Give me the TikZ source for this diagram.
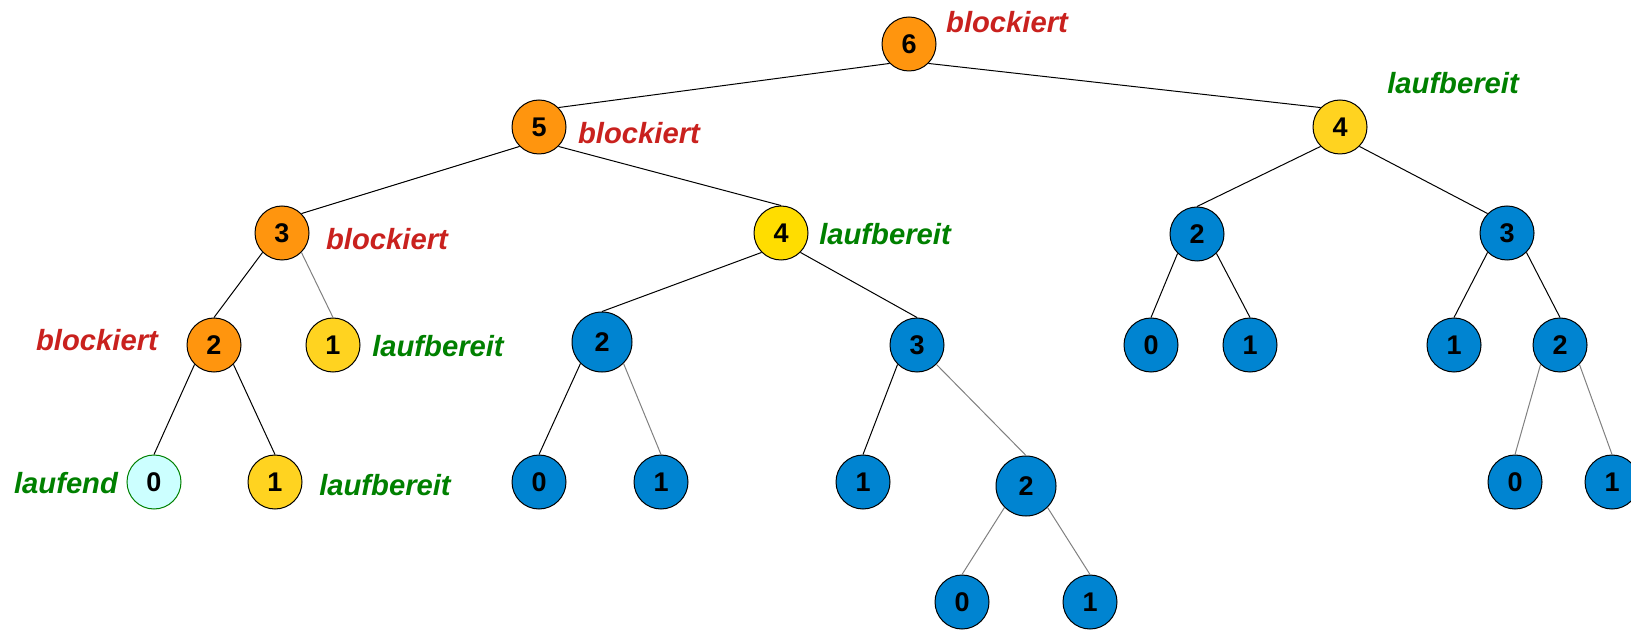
\documentclass[tikz,border=0pt]{standalone}
\usepackage{fontspec}
\setmainfont{Liberation Sans}
\definecolor{orng}{HTML}{FF950E}
\definecolor{ylw}{HTML}{FFD320}
\definecolor{ylwb}{HTML}{FFDD00}
\definecolor{blu}{HTML}{0084D1}
\definecolor{cyn}{HTML}{CCFFFF}
\definecolor{redtxt}{HTML}{C9211E}
\definecolor{grntxt}{HTML}{008000}
\definecolor{edgegray}{HTML}{808080}
\tikzset{
  pnode/.style={circle,draw=black,line width=0.5pt,inner sep=0pt,minimum size=27pt,
    font=\fontsize{13.5}{14}\selectfont\bfseries},
  big/.style={minimum size=30pt},
  orangenode/.style={pnode,fill=orng},
  yellownode/.style={pnode,fill=ylw},
  brightyellownode/.style={pnode,fill=ylwb},
  bluenode/.style={pnode,fill=blu},
  cyannode/.style={pnode,fill=cyn,draw=grntxt},
  redlabel/.style={text=redtxt,font=\fontsize{14.6}{16}\selectfont\bfseries\itshape,inner sep=0pt},
  greenlabel/.style={text=grntxt,font=\fontsize{14.6}{16}\selectfont\bfseries\itshape,inner sep=0pt},
  edge/.style={draw=black,line width=0.5pt},
  grayedge/.style={draw=edgegray,line width=0.5pt}
}
\begin{document}
\begin{tikzpicture}[x=0.5pt,y=-0.5pt]
\useasboundingbox (0,0) rectangle (1631,630);
% nodes
\node[orangenode] (n6) at (909,44) {6};
\node[orangenode] (n5) at (539,127) {5};
\node[yellownode] (n4r) at (1340,127) {4};
\node[orangenode] (n3l) at (282,233) {3};
\node[brightyellownode] (n4m) at (781,233) {4};
\node[bluenode] (n2r) at (1197,234) {2};
\node[bluenode] (n3r) at (1507,233) {3};
\node[orangenode] (n2o) at (214,345) {2};
\node[yellownode] (n1y) at (333,345) {1};
\node[bluenode,big] (n2m) at (602,342) {2};
\node[bluenode] (n3m) at (917,345) {3};
\node[bluenode] (n0a) at (1151,345) {0};
\node[bluenode] (n1a) at (1250,345) {1};
\node[bluenode] (n1b) at (1454,345) {1};
\node[bluenode] (n2b) at (1560,345) {2};
\node[cyannode] (n0c) at (154,482) {0};
\node[yellownode] (n1yb) at (275,482) {1};
\node[bluenode] (n0d) at (539,482) {0};
\node[bluenode] (n1d) at (661,482) {1};
\node[bluenode] (n1e) at (863,482) {1};
\node[bluenode,big] (n2e) at (1026,486) {2};
\node[bluenode] (n0f) at (1515,482) {0};
\node[bluenode] (n1f) at (1612,482) {1};
\node[bluenode] (n0g) at (962,602) {0};
\node[bluenode] (n1g) at (1090,602) {1};
% labels
\node[redlabel] (l6) at (1007,22) {blockiert};
\node[redlabel] (l5) at (639,133) {blockiert};
\node[greenlabel] (l4r) at (1453,83) {laufbereit};
\node[redlabel] (l3l) at (387,239) {blockiert};
\node[greenlabel] (l4m) at (885,234) {laufbereit};
\node[redlabel] (l2o) at (97,340) {blockiert};
\node[greenlabel] (l1y) at (438,346) {laufbereit};
\node[greenlabel] (l0c) at (66,483) {laufend};
\node[greenlabel] (l1yb) at (385,485) {laufbereit};
% edges
\draw[edge] (n6.225) -- (n5.45);
\draw[edge] (n6.315) -- (n4r.135);
\draw[edge] (n5.225) -- (n3l.45);
\draw[edge] (n5.315) -- (n4m.north);
\draw[edge] (n3l.225) -- (n2o.north);
\draw[grayedge] (n3l.315) -- (n1y.north);
\draw[edge] (n2o.225) -- (n0c.north);
\draw[edge] (n2o.315) -- (n1yb.north);
\draw[edge] (n4m.225) -- (n2m.north);
\draw[edge] (n4m.315) -- (n3m.north);
\draw[edge] (n2m.225) -- (n0d.north);
\draw[grayedge] (n2m.315) -- (n1d.north);
\draw[edge] (n3m.225) -- (n1e.north);
\draw[grayedge] (n3m.315) -- (n2e.north);
\draw[grayedge] (n2e.225) -- (n0g.north);
\draw[grayedge] (n2e.315) -- (n1g.north);
\draw[edge] (n4r.225) -- (n2r.north);
\draw[edge] (n4r.315) -- (n3r.135);
\draw[edge] (n2r.225) -- (n0a.north);
\draw[edge] (n2r.315) -- (n1a.north);
\draw[edge] (n3r.225) -- (n1b.north);
\draw[edge] (n3r.315) -- (n2b.north);
\draw[grayedge] (n2b.225) -- (n0f.north);
\draw[grayedge] (n2b.315) -- (n1f.north);
\end{tikzpicture}
\end{document}
